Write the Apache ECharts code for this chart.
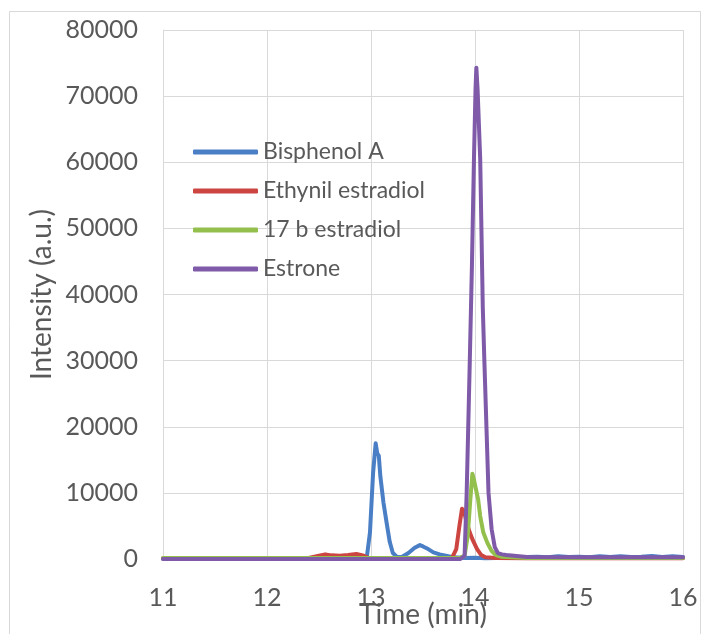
<!DOCTYPE html>
<html>
<head>
<meta charset="utf-8">
<script src="https://cdn.jsdelivr.net/npm/echarts@6/dist/echarts.min.js"></script>
<style>
  html, body { margin: 0; padding: 0; background: #fff; }
  #chart { width: 709px; height: 634px; }
</style>
</head>
<body>
<div id="chart"></div>
<script>
// retention time (min) and intensity (a.u.)
const seriesNames = ['Bisphenol A', 'Ethynil estradiol', '17 b estradiol', 'Estrone'];
const seriesColors = ['#4a7fc6', '#cc4540', '#93c04c', '#7e5aa8'];

const bpaTime = [11.0, 12.0, 12.9, 12.96, 12.99, 13.02, 13.045, 13.06, 13.075, 13.09, 13.12, 13.15, 13.18, 13.21, 13.25, 13.3, 13.36, 13.42, 13.47, 13.5, 13.55, 13.6, 13.66, 13.72, 13.8, 13.9, 14.0, 14.1, 14.3, 14.5, 14.6, 14.7, 14.8, 14.9, 15.0, 15.1, 15.2, 15.3, 15.4, 15.5, 15.6, 15.7, 15.8, 15.9, 16.0];
const bpaInt = [50, 50, 50, 300, 4000, 13000, 17500, 16000, 15600, 12500, 8500, 5500, 2600, 900, 300, 350, 900, 1700, 2100, 1900, 1500, 1000, 700, 500, 250, 150, 200, 100, 200, 300, 350, 250, 400, 300, 350, 250, 400, 300, 400, 300, 350, 450, 300, 400, 300];

const eeTime = [11.0, 12.0, 12.4, 12.5, 12.56, 12.62, 12.7, 12.78, 12.86, 12.92, 12.97, 13.05, 13.5, 13.78, 13.82, 13.85, 13.875, 13.895, 13.92, 13.95, 13.98, 14.02, 14.06, 14.1, 14.2, 14.5, 16.0];
const eeInt = [100, 100, 150, 500, 700, 550, 500, 600, 750, 550, 200, 100, 100, 200, 1500, 5000, 7600, 7200, 5500, 4000, 2800, 1500, 600, 250, 150, 100, 100];

const e2Time = [11.0, 13.85, 13.9, 13.93, 13.955, 13.975, 13.99, 14.01, 14.03, 14.05, 14.08, 14.12, 14.16, 14.2, 14.25, 14.35, 14.5, 16.0];
const e2Int = [150, 150, 500, 3500, 9000, 12900, 12000, 10500, 9000, 6500, 4000, 2400, 1200, 600, 350, 250, 150, 150];

const e1Time = [11.0, 13.86, 13.9, 13.92, 13.95, 13.97, 13.99, 14.005, 14.013, 14.025, 14.05, 14.075, 14.09, 14.13, 14.16, 14.19, 14.22, 14.26, 14.3, 14.4, 14.5, 15.0, 16.0];
const e1Int = [0, 0, 500, 10000, 30000, 44000, 60500, 71000, 74300, 71000, 60500, 38000, 30000, 10000, 4500, 1800, 900, 700, 600, 450, 300, 250, 250];

const xTicks = [11, 12, 13, 14, 15, 16];
const yMax = 80000;

const pairs = (t, v) => t.map((x, i) => [x, v[i]]);
const seriesData = [pairs(bpaTime, bpaInt), pairs(eeTime, eeInt), pairs(e2Time, e2Int), pairs(e1Time, e1Int)];

const txt = '#595959';
const font = 'Lato';

const chart = echarts.init(document.getElementById('chart'));
chart.setOption({
  animation: false,
  backgroundColor: '#fff',
  textStyle: { fontFamily: font },
  graphic: [{
    type: 'rect',
    shape: { x: 9.5, y: 11.5, width: 691, height: 640 },
    style: { fill: 'none', stroke: '#d9d9d9', lineWidth: 1 },
    silent: true
  }],
  grid: { left: 163, right: 26, top: 30, bottom: 75, outerBoundsMode: 'none', containLabel: false },
  legend: {
    orient: 'vertical',
    left: 193,
    top: 140,
    padding: 0,
    icon: 'roundRect',
    itemWidth: 65,
    itemHeight: 5,
    itemGap: 15,
    textStyle: { fontSize: 23, color: txt, fontFamily: font, lineHeight: 24 },
    data: seriesNames
  },
  xAxis: {
    type: 'value',
    min: xTicks[0],
    max: xTicks[xTicks.length - 1],
    interval: 1,
    name: 'Time (min)',
    nameLocation: 'middle',
    nameGap: 42,
    nameMoveOverlap: false,
    nameTextStyle: { fontSize: 28, color: txt, fontFamily: font },
    axisLine: { show: true, lineStyle: { color: '#d9d9d9' } },
    axisTick: { show: false },
    axisLabel: { fontSize: 25, color: txt, margin: 26, fontFamily: font },
    splitLine: { show: true, lineStyle: { color: '#d9d9d9', width: 1 } }
  },
  yAxis: {
    type: 'value',
    min: 0,
    max: yMax,
    interval: 10000,
    name: 'Intensity (a.u.)',
    nameLocation: 'middle',
    nameGap: 107,
    nameMoveOverlap: false,
    nameTextStyle: { fontSize: 28, color: txt, fontFamily: font },
    axisLine: { show: true, lineStyle: { color: '#d9d9d9' } },
    axisTick: { show: false },
    axisLabel: { fontSize: 25, color: txt, margin: 25, fontFamily: font, formatter: v => String(v) },
    splitLine: { show: true, lineStyle: { color: '#d9d9d9', width: 1 } }
  },
  series: seriesNames.map((name, i) => ({
    name: name,
    type: 'line',
    data: seriesData[i],
    showSymbol: false,
    symbol: 'none',
    color: seriesColors[i],
    lineStyle: { width: 4, color: seriesColors[i], cap: 'round', join: 'round' },
    z: 2 + i
  }))
});
</script>
</body>
</html>
